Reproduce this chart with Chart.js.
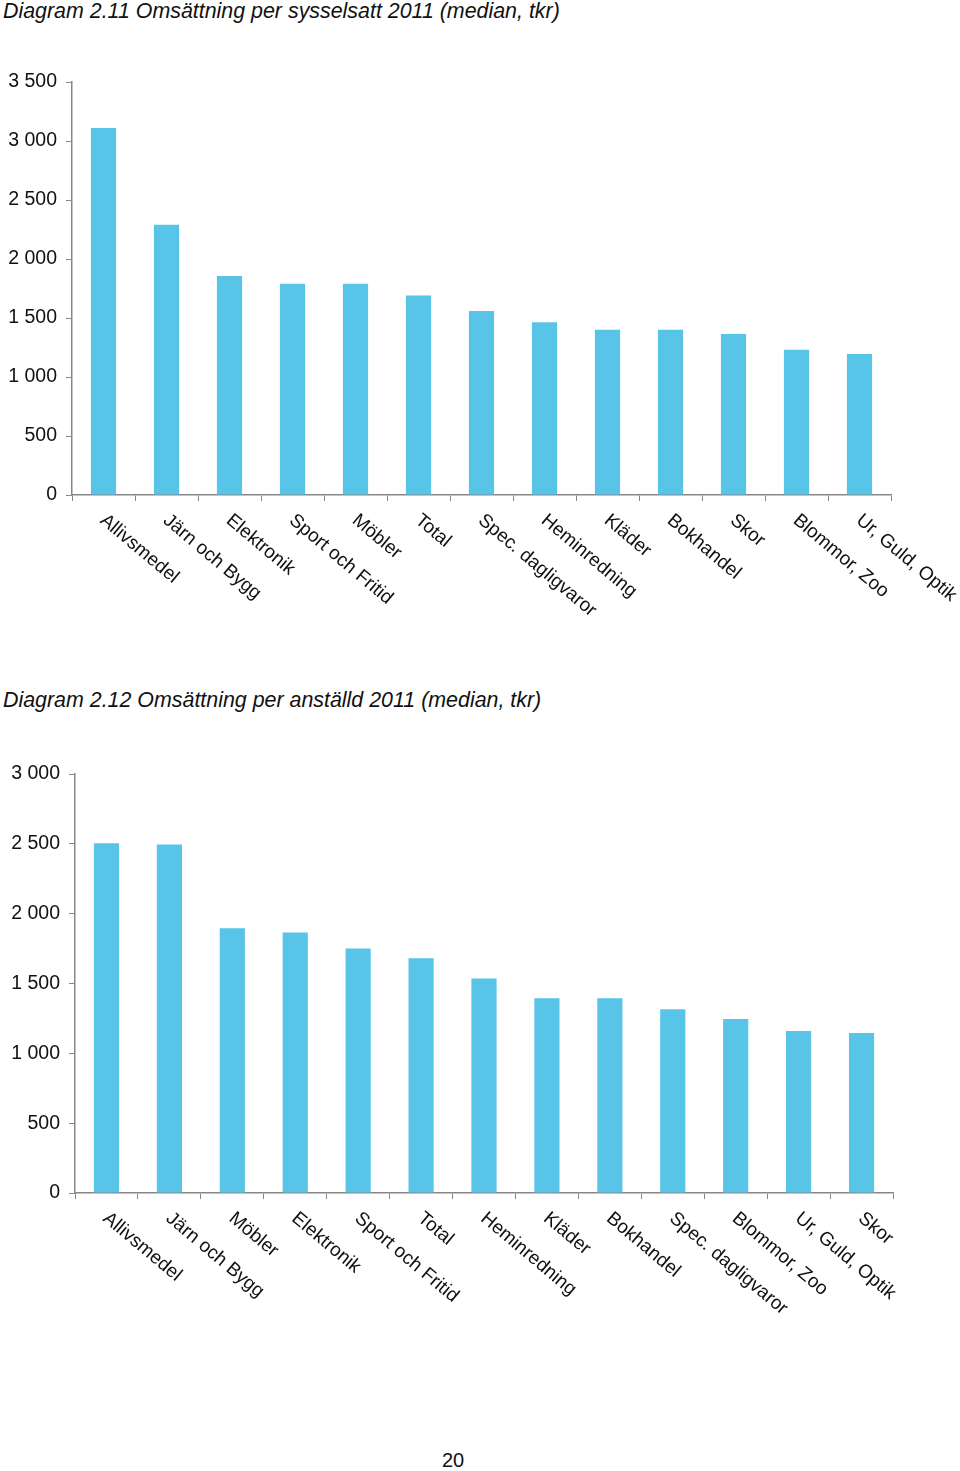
<!DOCTYPE html>
<html>
<head>
<meta charset="utf-8">
<script src="https://cdn.jsdelivr.net/npm/chart.js@4.4.1/dist/chart.umd.min.js"></script>
<style>
    body { margin: 0; background: #fff; width: 960px; height: 1471px; position: relative; overflow: hidden; }
    .title { position: absolute; left: 3px; font: italic 21.4px "Liberation Sans", Arial, sans-serif; color: #111; white-space: nowrap; }
    .page { position: absolute; left: 0; width: 906px; text-align: center; top: 1449px; font: 20px "Liberation Sans", Arial, sans-serif; color: #111; }
    canvas { position: absolute; left: 0; }
</style>
</head>
<body>
<div class="title" style="top: -1px;">Diagram 2.11 Omsättning per sysselsatt 2011 (median, tkr)</div>
<canvas id="chart1" width="960" height="600" style="top: 30px;"></canvas>
<div class="title" style="top: 688px;">Diagram 2.12 Omsättning per anställd 2011 (median, tkr)</div>
<canvas id="chart2" width="960" height="600" style="top: 730px;"></canvas>
<div class="page">20</div>

<script>
// Diagram 2.11 - omsättning per sysselsatt (tkr)
const categoriesSysselsatt = ['Allivsmedel', 'Järn och Bygg', 'Elektronik', 'Sport och Fritid', 'Möbler', 'Total',
    'Spec. dagligvaror', 'Heminredning', 'Kläder', 'Bokhandel', 'Skor', 'Blommor, Zoo', 'Ur, Guld, Optik'];
const valuesSysselsatt = [3110, 2290, 1855, 1790, 1790, 1690, 1560, 1465, 1400, 1400, 1365, 1230, 1195];
const ticksSysselsatt = [0, 500, 1000, 1500, 2000, 2500, 3000, 3500];

// Diagram 2.12 - omsättning per anställd (tkr)
const categoriesAnstalld = ['Allivsmedel', 'Järn och Bygg', 'Möbler', 'Elektronik', 'Sport och Fritid', 'Total',
    'Heminredning', 'Kläder', 'Bokhandel', 'Spec. dagligvaror', 'Blommor, Zoo', 'Ur, Guld, Optik', 'Skor'];
const valuesAnstalld = [2505, 2495, 1895, 1865, 1750, 1680, 1535, 1395, 1395, 1315, 1245, 1160, 1145];
const ticksAnstalld = [0, 500, 1000, 1500, 2000, 2500, 3000];

const BAR_COLOR = '#57C4E8';
const AXIS_COLOR = '#878787';
const FONT = '"Liberation Sans", Arial, sans-serif';

function formatThousands(v) {
    return String(v).replace(/\B(?=(\d{3})+(?!\d))/g, ' ');
}

// étiquettes en biais, dessinées à partir de l'échelle x
const slantedLabels = {
    id: 'slantedLabels',
    afterDraw(chart) {
        const scale = chart.scales.x;
        const ctx = chart.ctx;
        ctx.save();
        ctx.font = '19px ' + FONT;
        ctx.fillStyle = '#111';
        ctx.textAlign = 'left';
        ctx.textBaseline = 'middle';
        chart.data.labels.forEach((label, i) => {
            const x = scale.getPixelForValue(i);
            ctx.save();
            ctx.translate(x - 1, scale.top + 23);
            ctx.rotate(40 * Math.PI / 180);
            ctx.fillText(label, 0, 0);
            ctx.restore();
        });
        ctx.restore();
    }
};

function createBarChart(canvas, labels, values, ticks, area) {
    return new Chart(canvas.getContext('2d'), {
        type: 'bar',
        data: {
            labels: labels,
            datasets: [{
                data: values,
                backgroundColor: BAR_COLOR,
                barPercentage: 0.4,
                categoryPercentage: 1.0
            }]
        },
        options: {
            responsive: false,
            animation: false,
            layout: { padding: { top: area.top, right: area.right, bottom: 0, left: 0 } },
            plugins: { legend: { display: false }, tooltip: { enabled: false } },
            scales: {
                x: {
                    grid: { drawOnChartArea: false, drawTicks: true, tickLength: 6, color: AXIS_COLOR, offset: true },
                    border: { color: AXIS_COLOR, width: 1.5 },
                    ticks: { display: false },
                    afterFit: (scale) => { scale.height = area.xHeight; }
                },
                y: {
                    min: 0,
                    max: ticks[ticks.length - 1],
                    afterBuildTicks: (scale) => { scale.ticks = ticks.map(v => ({ value: v })); },
                    grid: { drawOnChartArea: false, drawTicks: true, tickLength: 6, color: AXIS_COLOR },
                    border: { color: AXIS_COLOR, width: 1.5 },
                    ticks: {
                        color: '#111',
                        padding: 9,
                        font: { family: FONT, size: 19.5 },
                        callback: (v) => formatThousands(v)
                    },
                    afterFit: (scale) => { scale.width = area.left; }
                }
            }
        },
        plugins: [slantedLabels]
    });
}

createBarChart(document.getElementById('chart1'), categoriesSysselsatt, valuesSysselsatt, ticksSysselsatt,
    { top: 52, right: 69, left: 72, xHeight: 135 });
createBarChart(document.getElementById('chart2'), categoriesAnstalld, valuesAnstalld, ticksAnstalld,
    { top: 44, right: 67, left: 75, xHeight: 137 });
</script>
</body>
</html>
